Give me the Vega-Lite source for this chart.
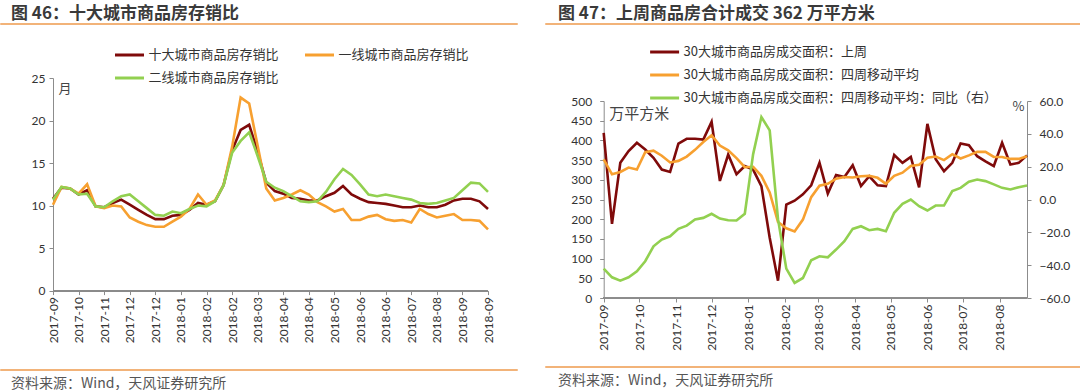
{
  "$schema": "https://vega.github.io/schema/vega-lite/v6.json",
  "padding": {"left": 0, "top": 4, "right": 0, "bottom": 0},
  "config": {
    "view": {"stroke": null},
    "font": "Noto Sans CJK SC",
    "axis": {"labelFont": "Lato", "labelFontSize": 12, "labelColor": "#333333", "domainColor": "#8c8c8c", "tickColor": "#8c8c8c", "grid": false, "tickSize": 4, "titleFont": "Noto Sans CJK SC", "titleFontWeight": "normal", "titleColor": "#444444"},
    "legend": {"symbolType": "stroke", "symbolStrokeWidth": 3, "symbolSize": 840, "labelFont": "Noto Sans CJK SC", "labelFontSize": 13, "labelColor": "#333333", "labelOffset": 3, "padding": 0, "labelLimit": 400},
    "title": {"font": "Noto Sans CJK SC"}
  },
  "datasets": {
    "left": [
      {"i": 0, "ten": 10.8, "tier1": 10.1, "tier2": 10.7},
      {"i": 1, "ten": 12.1, "tier1": 12.2, "tier2": 12.2},
      {"i": 2, "ten": 12.0, "tier1": 12.0, "tier2": 12.0},
      {"i": 3, "ten": 11.3, "tier1": 11.4, "tier2": 11.3},
      {"i": 4, "ten": 11.8, "tier1": 12.5, "tier2": 11.4},
      {"i": 5, "ten": 9.9, "tier1": 9.9, "tier2": 9.9},
      {"i": 6, "ten": 9.8, "tier1": 9.7, "tier2": 9.8},
      {"i": 7, "ten": 10.3, "tier1": 10.0, "tier2": 10.5},
      {"i": 8, "ten": 10.7, "tier1": 9.9, "tier2": 11.1},
      {"i": 9, "ten": 10.1, "tier1": 8.6, "tier2": 11.3},
      {"i": 10, "ten": 9.5, "tier1": 8.1, "tier2": 10.5},
      {"i": 11, "ten": 8.9, "tier1": 7.7, "tier2": 9.7},
      {"i": 12, "ten": 8.4, "tier1": 7.5, "tier2": 8.9},
      {"i": 13, "ten": 8.4, "tier1": 7.5, "tier2": 8.8},
      {"i": 14, "ten": 8.8, "tier1": 8.1, "tier2": 9.3},
      {"i": 15, "ten": 8.9, "tier1": 8.7, "tier2": 9.1},
      {"i": 16, "ten": 9.5, "tier1": 9.6, "tier2": 9.6},
      {"i": 17, "ten": 10.3, "tier1": 11.3, "tier2": 10.0},
      {"i": 18, "ten": 10.1, "tier1": 10.1, "tier2": 9.9},
      {"i": 19, "ten": 10.5, "tier1": 10.6, "tier2": 10.5},
      {"i": 20, "ten": 12.4, "tier1": 12.4, "tier2": 12.4},
      {"i": 21, "ten": 16.5, "tier1": 16.9, "tier2": 16.2},
      {"i": 22, "ten": 18.9, "tier1": 22.7, "tier2": 17.6},
      {"i": 23, "ten": 19.5, "tier1": 22.0, "tier2": 18.6},
      {"i": 24, "ten": 16.3, "tier1": 17.0, "tier2": 15.8},
      {"i": 25, "ten": 12.7, "tier1": 12.0, "tier2": 12.8},
      {"i": 26, "ten": 11.7, "tier1": 10.6, "tier2": 12.1},
      {"i": 27, "ten": 11.4, "tier1": 10.9, "tier2": 11.7},
      {"i": 28, "ten": 10.9, "tier1": 11.3, "tier2": 11.1},
      {"i": 29, "ten": 10.8, "tier1": 11.8, "tier2": 10.5},
      {"i": 30, "ten": 10.6, "tier1": 11.3, "tier2": 10.4},
      {"i": 31, "ten": 10.6, "tier1": 10.4, "tier2": 10.5},
      {"i": 32, "ten": 11.1, "tier1": 9.9, "tier2": 11.6},
      {"i": 33, "ten": 11.5, "tier1": 9.3, "tier2": 13.1},
      {"i": 34, "ten": 12.3, "tier1": 9.6, "tier2": 14.3},
      {"i": 35, "ten": 11.3, "tier1": 8.3, "tier2": 13.6},
      {"i": 36, "ten": 10.8, "tier1": 8.3, "tier2": 12.5},
      {"i": 37, "ten": 10.4, "tier1": 8.7, "tier2": 11.3},
      {"i": 38, "ten": 10.3, "tier1": 8.9, "tier2": 11.1},
      {"i": 39, "ten": 10.2, "tier1": 8.4, "tier2": 11.3},
      {"i": 40, "ten": 10.0, "tier1": 8.2, "tier2": 11.1},
      {"i": 41, "ten": 9.8, "tier1": 8.3, "tier2": 10.9},
      {"i": 42, "ten": 9.8, "tier1": 8.0, "tier2": 10.7},
      {"i": 43, "ten": 10.0, "tier1": 9.6, "tier2": 10.3},
      {"i": 44, "ten": 9.8, "tier1": 9.0, "tier2": 10.2},
      {"i": 45, "ten": 9.8, "tier1": 8.6, "tier2": 10.3},
      {"i": 46, "ten": 10.1, "tier1": 8.8, "tier2": 10.6},
      {"i": 47, "ten": 10.6, "tier1": 9.0, "tier2": 10.9},
      {"i": 48, "ten": 10.8, "tier1": 8.3, "tier2": 11.8},
      {"i": 49, "ten": 10.8, "tier1": 8.3, "tier2": 12.7},
      {"i": 50, "ten": 10.5, "tier1": 8.2, "tier2": 12.6},
      {"i": 51, "ten": 9.6, "tier1": 7.2, "tier2": 11.6}
    ],
    "right": [
      {"date": "2017-09-01", "week": 419, "ma4": 352, "yoy": -42.1},
      {"date": "2017-09-08", "week": 188, "ma4": 314, "yoy": -47.4},
      {"date": "2017-09-15", "week": 343, "ma4": 320, "yoy": -49.4},
      {"date": "2017-09-22", "week": 373, "ma4": 331, "yoy": -47.4},
      {"date": "2017-09-29", "week": 394, "ma4": 326, "yoy": -43.7},
      {"date": "2017-10-06", "week": 377, "ma4": 370, "yoy": -37.6},
      {"date": "2017-10-13", "week": 356, "ma4": 374, "yoy": -28.5},
      {"date": "2017-10-20", "week": 326, "ma4": 361, "yoy": -24.4},
      {"date": "2017-10-27", "week": 320, "ma4": 344, "yoy": -22.4},
      {"date": "2017-11-03", "week": 392, "ma4": 348, "yoy": -17.9},
      {"date": "2017-11-10", "week": 404, "ma4": 359, "yoy": -15.9},
      {"date": "2017-11-17", "week": 404, "ma4": 376, "yoy": -12.2},
      {"date": "2017-11-24", "week": 402, "ma4": 396, "yoy": -11.2},
      {"date": "2017-12-01", "week": 447, "ma4": 413, "yoy": -8.7},
      {"date": "2017-12-08", "week": 297, "ma4": 387, "yoy": -11.6},
      {"date": "2017-12-15", "week": 364, "ma4": 375, "yoy": -12.6},
      {"date": "2017-12-22", "week": 314, "ma4": 355, "yoy": -12.8},
      {"date": "2017-12-29", "week": 335, "ma4": 332, "yoy": -8.7},
      {"date": "2018-01-05", "week": 326, "ma4": 333, "yoy": 27.5},
      {"date": "2018-01-12", "week": 284, "ma4": 310, "yoy": 50.2},
      {"date": "2018-01-19", "week": 153, "ma4": 268, "yoy": 42.1},
      {"date": "2018-01-26", "week": 44, "ma4": 193, "yoy": -12.0},
      {"date": "2018-02-02", "week": 237, "ma4": 177, "yoy": -42.1},
      {"date": "2018-02-09", "week": 247, "ma4": 169, "yoy": -50.8},
      {"date": "2018-02-16", "week": 263, "ma4": 199, "yoy": -47.8},
      {"date": "2018-02-23", "week": 286, "ma4": 256, "yoy": -37.0},
      {"date": "2018-03-02", "week": 343, "ma4": 285, "yoy": -34.6},
      {"date": "2018-03-09", "week": 265, "ma4": 290, "yoy": -35.2},
      {"date": "2018-03-16", "week": 312, "ma4": 303, "yoy": -30.5},
      {"date": "2018-03-23", "week": 307, "ma4": 307, "yoy": -25.4},
      {"date": "2018-03-30", "week": 337, "ma4": 306, "yoy": -17.9},
      {"date": "2018-04-06", "week": 284, "ma4": 309, "yoy": -16.3},
      {"date": "2018-04-13", "week": 309, "ma4": 310, "yoy": -18.7},
      {"date": "2018-04-20", "week": 286, "ma4": 305, "yoy": -17.9},
      {"date": "2018-04-27", "week": 284, "ma4": 290, "yoy": -19.3},
      {"date": "2018-05-04", "week": 363, "ma4": 310, "yoy": -8.1},
      {"date": "2018-05-11", "week": 343, "ma4": 318, "yoy": -2.6},
      {"date": "2018-05-18", "week": 358, "ma4": 335, "yoy": 0.0},
      {"date": "2018-05-25", "week": 281, "ma4": 338, "yoy": -4.1},
      {"date": "2018-06-01", "week": 442, "ma4": 356, "yoy": -6.7},
      {"date": "2018-06-08", "week": 352, "ma4": 359, "yoy": -3.7},
      {"date": "2018-06-15", "week": 322, "ma4": 350, "yoy": -3.7},
      {"date": "2018-06-22", "week": 343, "ma4": 365, "yoy": 5.1},
      {"date": "2018-06-29", "week": 392, "ma4": 354, "yoy": 7.1},
      {"date": "2018-07-06", "week": 388, "ma4": 362, "yoy": 10.8},
      {"date": "2018-07-13", "week": 360, "ma4": 371, "yoy": 12.2},
      {"date": "2018-07-20", "week": 347, "ma4": 371, "yoy": 11.2},
      {"date": "2018-07-27", "week": 335, "ma4": 358, "yoy": 9.2},
      {"date": "2018-08-03", "week": 394, "ma4": 358, "yoy": 7.1},
      {"date": "2018-08-10", "week": 339, "ma4": 353, "yoy": 6.1},
      {"date": "2018-08-17", "week": 343, "ma4": 353, "yoy": 7.5},
      {"date": "2018-08-24", "week": 362, "ma4": 360, "yoy": 8.5}
    ]
  },
  "resolve": {"scale": {"color": "independent"}, "legend": {"color": "independent"}},
  "hconcat": [
    {
      "resolve": {"scale": {"color": "independent"}, "legend": {"color": "independent"}},
      "vconcat": [
        {
          "resolve": {"scale": {"color": "independent"}, "legend": {"color": "independent"}},
          "vconcat": [
            {
              "width": 516, "height": 0.001,
              "view": {"stroke": "#EE9A4D", "strokeWidth": 1.5},
              "title": {"text": "图 46：十大城市商品房存销比", "anchor": "start", "dx": 10, "fontSize": 17, "fontWeight": "bold", "color": "#3a3a3a", "offset": 1},
              "data": {"values": []},
              "mark": {"type": "text"},
              "encoding": {"text": {"field": "t"}}
            },
            {
              "width": 487, "height": 212.6,
              "data": {"name": "left"},
              "layer": [
                {
                  "mark": {"type": "rule", "color": "#8c8c8c", "strokeWidth": 1},
                  "encoding": {"x": {"datum": 0}, "x2": {"datum": 51}, "y": {"datum": 0}}
                },
                {
                  "transform": [{"fold": ["ten", "tier1", "tier2"], "as": ["s1", "value"]}],
                  "mark": {"type": "line", "strokeWidth": 2.6},
                  "encoding": {
                    "x": {"field": "i", "type": "quantitative", "scale": {"domain": [0, 51], "range": [52, 487], "nice": false, "zero": false},
                      "axis": {"domain": false, "tickCount": 100, "labelOverlap": false, "values": [0, 3, 6, 9, 12, 15, 18, 21, 24, 27, 30, 33, 36, 39, 42, 45, 48, 51], "labelExpr": "['2017-09','2017-10','2017-11','2017-12','2017-12','2018-01','2018-02','2018-02','2018-03','2018-04','2018-04','2018-05','2018-06','2018-06','2018-07','2018-08','2018-09','2018-09'][round(datum.value/3)]", "labelAngle": -90, "labelPadding": 2, "title": null}},
                    "y": {"field": "value", "type": "quantitative", "scale": {"domain": [0, 25], "nice": false},
                      "axis": {"offset": -52, "tickCount": 100, "format": "d", "values": [0, 5, 10, 15, 20, 25], "labelPadding": 4, "title": "月", "titleAngle": 0, "titleAlign": "left", "titleBaseline": "middle", "titleX": 5, "titleY": 10, "titleFontSize": 13}},
                    "color": {"field": "s1", "type": "nominal",
                      "scale": {"domain": ["ten", "tier1", "tier2"], "range": ["#7F0A0A", "#F7A030", "#92D050"]},
                      "legend": {"orient": "none", "legendX": 112.5, "legendY": -39, "direction": "horizontal", "columns": 2, "columnPadding": 19, "rowPadding": 0, "title": null,
                        "labelExpr": "datum.label == 'ten' ? '十大城市商品房存销比' : datum.label == 'tier1' ? '一线城市商品房存销比' : '二线城市商品房存销比'"}}
                  }
                }
              ]
            }
          ],
          "spacing": 14
        },
        {
          "width": 516, "height": 0.001,
          "view": {"stroke": "#EE9A4D", "strokeWidth": 1.5},
          "title": {"text": "资料来源：Wind，天风证券研究所", "orient": "bottom", "anchor": "start", "dx": 10, "fontSize": 14, "fontWeight": "normal", "color": "#555555", "offset": 7},
          "data": {"values": []},
          "mark": {"type": "text"},
          "encoding": {"text": {"field": "t"}}
        }
      ],
      "spacing": 26
    },
    {
      "resolve": {"scale": {"color": "independent"}, "legend": {"color": "independent"}},
      "vconcat": [
        {
          "resolve": {"scale": {"color": "independent"}, "legend": {"color": "independent"}},
          "vconcat": [
            {
              "width": 537, "height": 0.001,
              "view": {"stroke": "#EE9A4D", "strokeWidth": 1.5},
              "title": {"text": "图 47：上周商品房合计成交 362 万平方米", "anchor": "start", "dx": 12, "fontSize": 17, "fontWeight": "bold", "color": "#3a3a3a", "offset": 1},
              "data": {"values": []},
              "mark": {"type": "text"},
              "encoding": {"text": {"field": "t"}}
            },
            {
              "width": 481, "height": 197,
              "data": {"name": "right"},
              "layer": [
                {
                  "layer": [
                    {
                      "mark": {"type": "rule", "color": "#8c8c8c", "strokeWidth": 1},
                      "encoding": {
                        "x": {"datum": {"year": 2017, "month": 9, "date": 1}, "type": "temporal"},
                        "x2": {"datum": {"year": 2018, "month": 8, "date": 24}},
                        "y": {"datum": 0, "type": "quantitative"}
                      }
                    },
                    {
                      "transform": [{"fold": ["week", "ma4"], "as": ["s2", "value"]}],
                      "mark": {"type": "line", "strokeWidth": 2.6},
                      "encoding": {
                        "x": {"field": "date", "type": "temporal",
                          "scale": {"domain": [{"year": 2017, "month": 9, "date": 1}, {"year": 2018, "month": 8, "date": 24}], "range": [57.7, 481]},
                          "axis": {"domain": false, "tickCount": {"interval": "month", "step": 1}, "format": "%Y-%m", "labelAngle": -90, "labelPadding": 2, "title": null}},
                        "y": {"field": "value", "type": "quantitative", "scale": {"domain": [0, 500], "nice": false},
                          "axis": {"offset": -57.7, "tickCount": 100, "format": "d", "labelOverlap": false, "values": [0, 50, 100, 150, 200, 250, 300, 350, 400, 450, 500], "labelPadding": 8, "title": "万平方米", "titleAngle": 0, "titleAlign": "left", "titleBaseline": "middle", "titleX": 5, "titleY": 12, "titleFontSize": 15}},
                        "color": {"field": "s2", "type": "nominal",
                          "scale": {"domain": ["week", "ma4", "yoy"], "range": ["#7F0A0A", "#F7A030", "#92D050"]},
                          "legend": {"orient": "none", "legendX": 102.6, "legendY": -65, "direction": "vertical", "columns": 1, "rowPadding": 0, "title": null,
                            "labelExpr": "datum.label == 'week' ? '30大城市商品房成交面积：上周' : datum.label == 'ma4' ? '30大城市商品房成交面积：四周移动平均' : '30大城市商品房成交面积：四周移动平均：同比（右）'"}}
                      }
                    }
                  ]
                },
                {
                  "mark": {"type": "line", "strokeWidth": 2.6},
                  "encoding": {
                    "x": {"field": "date", "type": "temporal"},
                    "y": {"field": "yoy", "type": "quantitative", "scale": {"domain": [-60, 60], "nice": false},
                      "axis": {"orient": "right", "values": [-60, -40, -20, 0, 20, 40, 60], "format": ".1f", "labelPadding": 8, "title": "%", "titleAngle": 0, "titleAlign": "right", "titleBaseline": "middle", "titleX": -3, "titleY": 5, "titleFontSize": 13}},
                    "color": {"datum": "yoy", "type": "nominal"}
                  }
                }
              ],
              "resolve": {"scale": {"y": "independent"}}
            }
          ],
          "spacing": 11
        },
        {
          "width": 537, "height": 0.001,
          "view": {"stroke": "#EE9A4D", "strokeWidth": 1.5},
          "title": {"text": "资料来源：Wind，天风证券研究所", "orient": "bottom", "anchor": "start", "dx": 12, "fontSize": 14, "fontWeight": "normal", "color": "#555555", "offset": 7},
          "data": {"values": []},
          "mark": {"type": "text"},
          "encoding": {"text": {"field": "t"}}
        }
      ],
      "spacing": 15
    }
  ],
  "spacing": 27
}
